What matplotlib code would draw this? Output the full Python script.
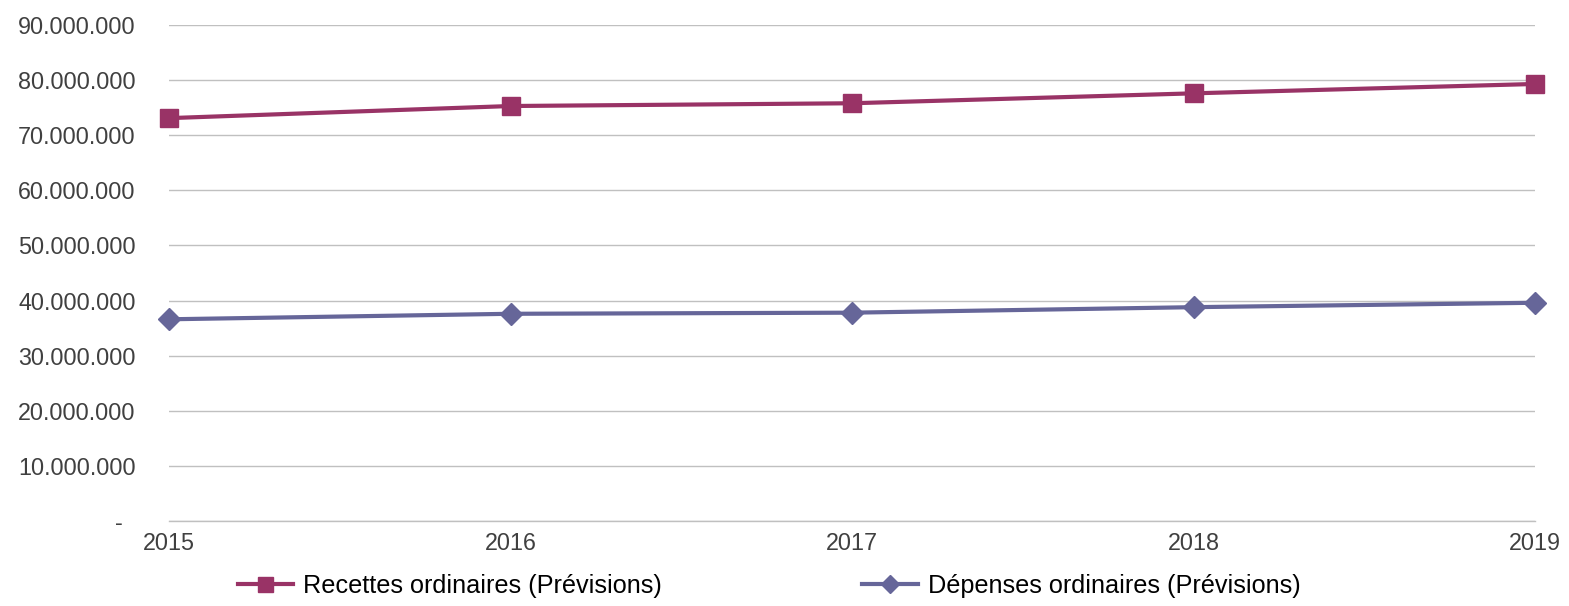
import matplotlib
matplotlib.use("Agg")
import matplotlib.pyplot as plt
from matplotlib.ticker import FuncFormatter

years = [2015, 2016, 2017, 2018, 2019]
recettes = [73100000, 75300000, 75800000, 77600000, 79300000]
depenses = [36600000, 37600000, 37800000, 38800000, 39600000]
series_labels = ["Recettes ordinaires (Prévisions)", "Dépenses ordinaires (Prévisions)"]
yticks = [0, 10000000, 20000000, 30000000, 40000000, 50000000, 60000000, 70000000, 80000000, 90000000]

plt.rcParams['font.family'] = ['Liberation Sans', 'DejaVu Sans']

fig = plt.figure(figsize=(15.69, 6.06), dpi=100)
ax = fig.add_axes([169/1569, 1-521/606, (1535-169)/1569, (521-25)/606])

c1 = '#993366'
c2 = '#666699'
ax.plot(years, recettes, color=c1, lw=3, marker='s', ms=13.5, clip_on=False, zorder=3, label=series_labels[0])
ax.plot(years, depenses, color=c2, lw=3, marker='D', ms=11, clip_on=False, zorder=3, label=series_labels[1])

ax.set_xlim(2015, 2019)
ax.set_ylim(0, 90000000)
ax.set_xticks(years)
ax.set_yticks(yticks)

def fmt(v, pos):
    if v == 0:
        return "-  "
    return f"{int(v):,}".replace(",", ".")
ax.yaxis.set_major_formatter(FuncFormatter(fmt))

ax.grid(axis='y', color='#c0c0c0', lw=1)
ax.set_axisbelow(True)
for s in ['top', 'right', 'left']:
    ax.spines[s].set_visible(False)
ax.spines['bottom'].set_color('#c0c0c0')
ax.spines['bottom'].set_linewidth(1)
ax.tick_params(axis='both', length=0, labelsize=16.8, labelcolor='#404040')
ax.tick_params(axis='y', pad=24)
ax.tick_params(axis='x', pad=8)

fig.legend(loc='center', bbox_to_anchor=(769/1569, 1-586/606), ncol=2, frameon=False,
           fontsize=18.2, handlelength=2.2, handletextpad=0.4, columnspacing=7.9, markerscale=0.8)

fig.savefig("out.png", dpi=100, facecolor='white')
